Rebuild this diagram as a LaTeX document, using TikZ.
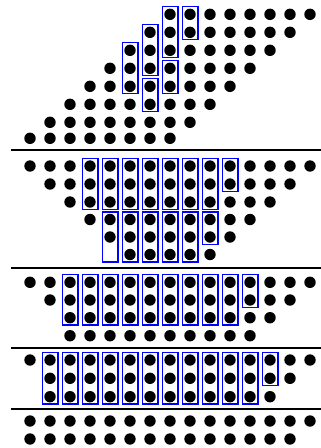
\documentclass[tikz,border=0pt]{standalone}
\newcommand\dotrow[3]{\foreach \i in {#2,...,#3} {\fill (30+20*\i,#1) circle (5.7pt);}}
\newcommand\bx[3]{\draw[boxst] (30+20*#1-7.8,#2-7.6) rectangle (30+20*#1+7.8,#3+7.4);}
\begin{document}
\begin{tikzpicture}[x=1pt,y=-1pt,
  boxst/.style={draw=blue,line width=1.4pt},
  rule/.style={line width=1.8pt}]
\useasboundingbox (0,0) rectangle (321,448);
% top staircase
\foreach \k/\y in {0/14.3,1/32.3,2/50.3,3/68.3,4/86.3,5/104.3,6/122.3,7/138.3} {
  \pgfmathtruncatemacro\a{7-\k}\pgfmathtruncatemacro\b{14-\k}
  \dotrow{\y}{\a}{\b}
}
\bx{7}{14.3}{50.3}
\bx{8}{14.3}{32.3}
\bx{6}{32.3}{68.3}
\bx{5}{50.3}{86.3}
\bx{7}{68.3}{86.3}
\bx{6}{86.3}{104.3}
\draw[rule] (11,150) -- (321,150);
% section 2
\dotrow{166}{0}{14}
\dotrow{184}{1}{13}
\dotrow{202}{2}{12}
\dotrow{219.5}{3}{11}
\dotrow{237}{4}{10}
\dotrow{254.5}{5}{9}
\foreach \c in {3,...,9} {\bx{\c}{166}{202}}
\bx{10}{166}{184}
\foreach \c in {4,...,8} {\bx{\c}{219.5}{254.5}}
\bx{9}{219.5}{237}
\draw[rule] (11,268.3) -- (321,268.3);
% section 3
\dotrow{282.3}{0}{14}
\dotrow{300}{1}{13}
\dotrow{317.7}{2}{12}
\dotrow{335.7}{2}{11}
\foreach \c in {2,...,10} {\bx{\c}{282.3}{317.7}}
\bx{11}{282.3}{300}
\draw[rule] (11,348) -- (321,348);
% section 4
\dotrow{360}{0}{14}
\dotrow{378.3}{1}{13}
\dotrow{396.7}{1}{12}
\foreach \c in {1,...,11} {\bx{\c}{360}{396.7}}
\bx{12}{360}{378.3}
\draw[rule] (11,409) -- (321,409);
% bottom
\dotrow{421}{0}{14}
\dotrow{439}{0}{13}
\end{tikzpicture}
\end{document}
